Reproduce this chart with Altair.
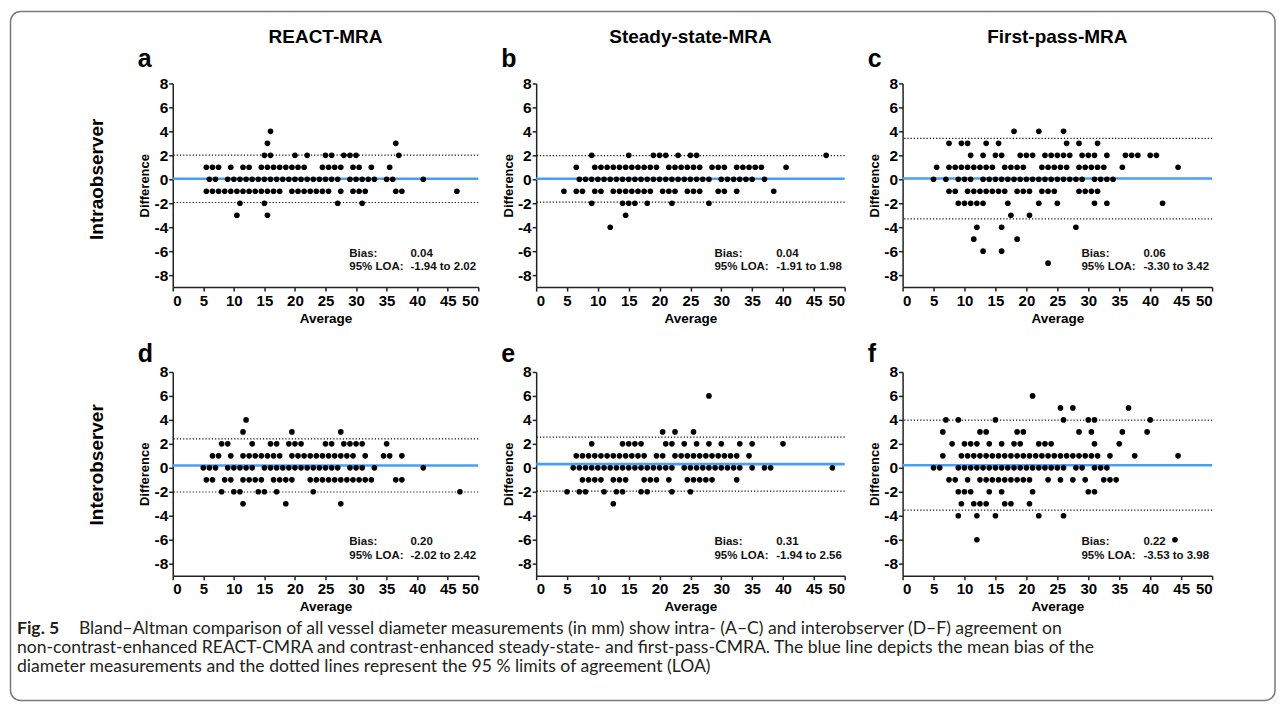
import altair as alt
import pandas as pd

# ---------------- data (difference level -> averages) ----------------
a_pts = {
    4: [16],
    3: [15.5, 36.5],
    2: [15, 16, 20, 22, 25, 26, 28, 29, 30, 37],
    1: [5.5, 6.5, 7.5, 9.5, 11.5, 12.5, 14.5, 15.5, 16.5, 17.5, 18.5, 19.5, 20.5, 21.5, 24.5, 25.5, 26.5, 27.5, 29.5, 30.5, 32.5, 35.5],
    0: [6, 7, 9, 10, 11, 12, 13, 14, 15, 16, 17, 18, 19, 20, 21, 22, 23, 24, 25, 26, 27, 29, 30, 31, 32, 33, 35, 36, 41],
    -1: [5.5, 6.5, 7.5, 8.5, 9.5, 10.5, 11.5, 12.5, 13.5, 14.5, 15.5, 16.5, 17.5, 19.5, 20.5, 21.5, 22.5, 23.5, 24.5, 25.5, 27.5, 29.5, 30.5, 31.5, 36.5, 37.5, 46.5],
    -2: [11, 15, 27, 31],
    -3: [10.5, 15.5],
}
b_pts = {
    2: [9, 15, 19, 20, 21, 23, 25, 26, 47],
    1: [6.5, 9.5, 10.5, 11.5, 12.5, 13.5, 14.5, 15.5, 16.5, 17.5, 18.5, 19.5, 21.5, 22.5, 23.5, 24.5, 25.5, 26.5, 28.5, 29.5, 30.5, 32.5, 33.5, 34.5, 35.5, 36.5, 40.5],
    0: [7, 8, 9, 10, 11, 12, 13, 14, 15, 16, 17, 18, 19, 20, 21, 22, 23, 24, 25, 26, 27, 28, 30, 31, 32, 33, 34, 35, 37],
    -1: [4.5, 6.5, 7.5, 9.5, 10.5, 12.5, 13.5, 14.5, 15.5, 16.5, 17.5, 18.5, 20.5, 21.5, 22.5, 24.5, 25.5, 26.5, 29.5, 30.5, 32.5, 38.5],
    -2: [9, 14, 15, 16, 18, 22, 28],
    -3: [14.5],
    -4: [12],
}
c_pts = {
    4: [18, 22, 26],
    3: [7.5, 9.5, 10.5, 13.5, 15.5, 26.5, 28.5, 31.5],
    2: [11, 13, 15, 16, 19, 20, 21, 23, 24, 25, 26, 27, 29, 30, 31, 33, 36, 37, 38, 40, 41],
    1: [5.5, 7.5, 8.5, 9.5, 10.5, 11.5, 12.5, 13.5, 14.5, 16.5, 17.5, 18.5, 19.5, 22.5, 23.5, 24.5, 25.5, 26.5, 28.5, 29.5, 30.5, 31.5, 32.5, 35.5, 44.5],
    0: [5, 7, 9, 10, 11, 13, 14, 15, 16, 17, 18, 19, 20, 21, 22, 23, 24, 25, 26, 27, 28, 29, 31, 32, 33, 34],
    -1: [7.5, 8.5, 10.5, 11.5, 12.5, 13.5, 14.5, 15.5, 16.5, 18.5, 19.5, 20.5, 22.5, 23.5, 24.5, 28.5, 29.5, 30.5, 31.5],
    -2: [9, 10, 11, 12, 13, 17, 22, 25, 31, 33, 42],
    -3: [17.5, 20.5],
    -4: [12, 16, 28],
    -5: [11.5, 18.5],
    -6: [13, 16],
    -7: [23.5],
}
d_pts = {
    4: [12],
    3: [11.5, 19.5, 27.5],
    2: [8, 9, 13, 16, 17, 19, 20, 21, 25, 26, 28, 29, 30, 31, 35],
    1: [6.5, 7.5, 9.5, 11.5, 12.5, 13.5, 14.5, 15.5, 16.5, 17.5, 19.5, 20.5, 21.5, 22.5, 23.5, 24.5, 25.5, 26.5, 27.5, 28.5, 29.5, 31.5, 34.5, 35.5, 37.5],
    0: [5, 6, 7, 9, 10, 11, 12, 13, 15, 16, 17, 18, 19, 20, 21, 22, 23, 24, 25, 26, 27, 29, 30, 31, 33, 41],
    -1: [5.5, 6.5, 8.5, 9.5, 11.5, 12.5, 13.5, 14.5, 16.5, 17.5, 18.5, 19.5, 22.5, 23.5, 24.5, 25.5, 26.5, 27.5, 28.5, 29.5, 30.5, 31.5, 32.5, 36.5, 37.5],
    -2: [8, 10, 11, 14, 15, 17, 23, 47],
    -3: [11.5, 18.5, 27.5],
}
e_pts = {
    6: [28],
    3: [20.5, 22.5, 25.5],
    2: [9, 14, 15, 16, 17, 21, 22, 24, 26, 28, 30, 33, 35, 40],
    1: [6.5, 7.5, 8.5, 9.5, 10.5, 11.5, 12.5, 13.5, 14.5, 15.5, 16.5, 17.5, 19.5, 20.5, 22.5, 23.5, 24.5, 25.5, 26.5, 27.5, 28.5, 29.5, 30.5, 31.5, 32.5, 34.5],
    0: [6, 7, 8, 9, 10, 11, 12, 13, 14, 15, 16, 17, 18, 19, 20, 21, 22, 24, 25, 26, 27, 28, 29, 30, 31, 32, 33, 35, 37, 38, 48],
    -1: [7.5, 8.5, 9.5, 10.5, 12.5, 13.5, 14.5, 17.5, 18.5, 19.5, 21.5, 24.5, 25.5, 26.5, 27.5, 28.5, 32.5],
    -2: [5, 7, 8, 11, 13, 14, 17, 18, 22, 25],
    -3: [12.5],
}
f_pts = {
    6: [21],
    5: [25.5, 27.5, 36.5],
    4: [7, 9, 15, 26, 30, 31, 40],
    3: [6.5, 12.5, 13.5, 18.5, 19.5, 28.5, 30.5, 35.5, 39.5],
    2: [8, 10, 11, 12, 14, 16, 18, 19, 22, 23, 24, 31, 35],
    1: [6.5, 9.5, 10.5, 11.5, 12.5, 13.5, 14.5, 15.5, 16.5, 17.5, 18.5, 19.5, 20.5, 21.5, 22.5, 23.5, 24.5, 25.5, 26.5, 27.5, 28.5, 29.5, 30.5, 31.5, 33.5, 37.5, 44.5],
    0: [5, 6, 9, 10, 11, 12, 13, 14, 15, 16, 17, 18, 19, 20, 21, 22, 23, 24, 25, 26, 28, 29, 31, 32, 33],
    -1: [7.5, 8.5, 10.5, 12.5, 13.5, 14.5, 15.5, 16.5, 17.5, 18.5, 19.5, 20.5, 23.5, 25.5, 27.5, 29.5, 32.5, 33.5, 34.5],
    -2: [9, 10, 11, 14, 16, 21, 30, 31],
    -3: [9.5, 11.5, 12.5, 13.5, 16.5, 17.5, 20.5],
    -4: [9, 12, 15, 22, 26],
    -6: [12, 44],
}

panel_letters = ["a", "b", "c", "d", "e", "f"]
column_titles = ["REACT-MRA", "Steady-state-MRA", "First-pass-MRA"]
row_titles = ["Intraobserver", "Interobserver"]
bias_values = [0.04, 0.04, 0.06, 0.20, 0.31, 0.22]
loa_low = [-1.94, -1.91, -3.30, -2.02, -1.94, -3.53]
loa_high = [2.02, 1.98, 3.42, 2.42, 2.56, 3.98]
x_ticks = [0, 5, 10, 15, 20, 25, 30, 35, 40, 45, 50]
y_ticks = [-8, -6, -4, -2, 0, 2, 4, 6, 8]
caption_lead = "Fig. 5"
caption_lines = [
    "Bland–Altman comparison of all vessel diameter measurements (in mm) show intra- (A–C) and interobserver (D–F) agreement on",
    "non-contrast-enhanced REACT-CMRA and contrast-enhanced steady-state- and first-pass-CMRA. The blue line depicts the mean bias of the",
    "diameter measurements and the dotted lines represent the 95 % limits of agreement (LOA)",
]

FONT = "Liberation Sans"
CAP_FONT = "Lato"
CAP_SIZE = 17.6
widths = [306, 309, 310]
H = 204
one = pd.DataFrame({"k": [0]})


def points_df(pts):
    rows = [(x, d) for d, xs in pts.items() for x in xs]
    return pd.DataFrame(rows, columns=["avg", "diff"])


def panel(idx, pts):
    col = idx % 3
    row = idx // 3
    W = widths[col]
    xenc = alt.X("avg:Q", scale=alt.Scale(domain=[0, 50], nice=False, zero=False),
                 axis=alt.Axis(values=x_ticks, title="Average", labelFontSize=15,
                               labelPadding=2, titleFontSize=13.5, titlePadding=3,
                               labelOverlap=False))
    yenc = alt.Y("diff:Q", scale=alt.Scale(domain=[-9, 8], nice=False, zero=False),
                 axis=alt.Axis(values=y_ticks, title="Difference", labelFontSize=15.5,
                               labelPadding=1, titleFontSize=13, titlePadding=2,
                               labelOverlap=False, labelExpr="'' + datum.value"))
    df = points_df(pts)
    lim = pd.DataFrame({"diff": [loa_low[idx], loa_high[idx]]})
    bias = pd.DataFrame({"diff": [bias_values[idx]]})
    dotted = alt.Chart(lim).mark_rule(color="#111", strokeWidth=1.2, strokeDash=[1.2, 2]).encode(y=yenc)
    blue = alt.Chart(bias).mark_rule(color="#4a9ff5", strokeWidth=2.6).encode(y=yenc)
    dots = alt.Chart(df).mark_circle(size=32, color="black", opacity=1).encode(x=xenc, y=yenc)
    stats = pd.DataFrame({
        "avg": [28.9, 28.9, 38.9, 38.9],
        "diff": [-6.2, -7.35, -6.2, -7.35],
        "label": ["Bias:", "95% LOA:", f"{bias_values[idx]:.2f}",
                  f"{loa_low[idx]:.2f} to {loa_high[idx]:.2f}"],
    })
    stat_text = alt.Chart(stats).mark_text(align="left", baseline="middle", font=FONT,
                                          fontSize=11.5, fontWeight="bold", color="#111").encode(
        x=xenc, y=yenc, text="label:N")
    letter = alt.Chart(one).mark_text(text=panel_letters[idx], align="left", baseline="alphabetic",
                                      font=FONT, fontSize=25, fontWeight="bold", color="black").encode(
        x=alt.value(-35), y=alt.value(-16 if row == 0 else -10))
    layers = [dotted, blue, dots, stat_text, letter]
    if row == 0:
        layers.append(alt.Chart(one).mark_text(text=column_titles[col], align="center", baseline="alphabetic",
                                               font=FONT, fontSize=19, fontWeight="bold", color="black").encode(
            x=alt.value(W / 2), y=alt.value(-40)))
    if col == 0:
        layers.append(alt.Chart(one).mark_text(text=row_titles[row], align="center", baseline="middle",
                                               angle=270, font=FONT, fontSize=19, fontWeight="bold",
                                               color="black").encode(
            x=alt.value(-76), y=alt.value(96 if row == 0 else 93)))
    if idx == 0:
        layers.append(alt.Chart(one).mark_rect(fillOpacity=0, stroke="#7a7a7a", strokeWidth=1.5,
                                               cornerRadius=10).encode(
            x=alt.value(-162.5), x2=alt.value(1104), y=alt.value(-72), y2=alt.value(618)))
    if idx == 3:
        layers.append(alt.Chart(one).mark_text(text=caption_lead, align="left", baseline="alphabetic",
                                               font=CAP_FONT, fontSize=CAP_SIZE, fontWeight="bold",
                                               color="#231f20").encode(
            x=alt.value(-156), y=alt.value(262)))
        ys = [262, 281.5, 301]
        xs = [-94, -156, -156]
        for t, yy, xx in zip(caption_lines, ys, xs):
            layers.append(alt.Chart(one).mark_text(text=t, align="left", baseline="alphabetic",
                                                   font=CAP_FONT, fontSize=CAP_SIZE, color="#231f20").encode(
                x=alt.value(xx), y=alt.value(yy)))
    return alt.layer(*layers).properties(width=W, height=H)


all_pts = [a_pts, b_pts, c_pts, d_pts, e_pts, f_pts]
charts = [panel(i, p) for i, p in enumerate(all_pts)]

chart = alt.concat(*charts, columns=3, bounds="flush", align="each",
                   spacing=alt.RowColnumber(row=85, column=58)).properties(
    padding={"left": 1, "top": 2, "right": 0, "bottom": 0}
).configure_view(stroke=None).configure_axis(
    grid=False, domainColor="#222", domainWidth=1.5, tickColor="#222", tickWidth=1.5, tickSize=4,
    labelFont=FONT, labelFontWeight="bold", labelColor="black",
    titleFont=FONT, titleFontWeight="bold", titleColor="black"
)

chart.save("out.html", embed_options={"renderer": "svg", "actions": False})
